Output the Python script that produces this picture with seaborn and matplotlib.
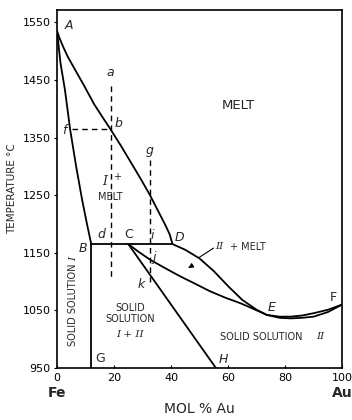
import matplotlib
matplotlib.use('Agg')
import pandas as pd
import matplotlib.pyplot as plt
import seaborn as sns

# Fe-Au phase diagram (x = mol % Au, y = temperature C)

liquidus_x = [0, 1, 2.2, 3.8, 6.3, 9.5, 13, 16, 18.8, 22.5, 26, 29.5, 32.6, 35.5, 38, 39.5, 40.5]
liquidus_t = [1535, 1521, 1507, 1490, 1468, 1440, 1408, 1385, 1364, 1335, 1306, 1277, 1250, 1222, 1198, 1182, 1165]

solidus1_x = [0, 1.2, 2.8, 4.6, 6.7, 8.8, 10.5, 12]
solidus1_t = [1535, 1480, 1432, 1364, 1300, 1242, 1200, 1165]

liquidus2_x = [40.5, 45, 50, 55, 60, 65, 70, 73.6, 78, 82, 86, 90, 95, 100]
liquidus2_t = [1165, 1155, 1140, 1118, 1092, 1068, 1051, 1042, 1039, 1039, 1041, 1045, 1051, 1060]

solidus2_x = [25, 28.5, 32.6, 38, 43.2, 48.5, 53.7, 59, 64.5, 70, 73.6, 78, 82, 86, 90, 95, 100]
solidus2_t = [1165, 1152, 1138, 1123, 1109, 1096, 1083, 1072, 1062, 1050, 1042, 1037, 1036, 1037, 1039, 1047, 1060]

solvus_x = [25, 55.7]          # C -> H
solvus_t = [1165, 950]

peritectic_x = [12, 40.5]      # B -> D
peritectic_t = [1165, 1165]

boundary_x = [12, 12]          # B -> G
boundary_t = [1165, 950]

# dashed construction lines
dash_ad_x = [18.8, 18.8]
dash_ad_t = [1440, 1105]
dash_fb_x = [5.1, 18.8]
dash_fb_t = [1364, 1364]
dash_gk_x = [32.6, 32.6]
dash_gk_t = [1311, 1100]

# point letters: (text, x, t, italic)
letters = [('A', 4.0, 1545, True), ('a', 18.6, 1463, True), ('b', 21.6, 1375, True),
           ('f', 2.5, 1363, True), ('g', 32.6, 1328, True), ('d', 15.7, 1182, True),
           ('C', 25.2, 1182, False), ('i', 33.4, 1180, True), ('D', 43.0, 1176, True),
           ('B', 9.2, 1158, True), ('j', 34.0, 1141, True), ('k', 29.6, 1094, True),
           ('G', 15.2, 966, False), ('H', 58.3, 965, True), ('E', 75.3, 1055, True),
           ('F', 96.8, 1073, False)]

xticks = [0, 20, 40, 60, 80, 100]
yticks = [950, 1050, 1150, 1250, 1350, 1450, 1550]

sns.set_theme(style='ticks')
plt.rcParams['font.family'] = ['DejaVu Sans']

fig = plt.figure(figsize=(3.52, 4.2), dpi=100)
ax = fig.add_axes([0.162, 0.124, 0.81, 0.853])

lw = 1.3
for xs, ts in [(liquidus_x, liquidus_t), (solidus1_x, solidus1_t), (liquidus2_x, liquidus2_t),
               (solidus2_x, solidus2_t), (solvus_x, solvus_t), (peritectic_x, peritectic_t),
               (boundary_x, boundary_t)]:
    df = pd.DataFrame({'x': xs, 't': ts})
    sns.lineplot(data=df, x='x', y='t', sort=False, estimator=None, color='black', lw=lw, ax=ax)

for xs, ts in [(dash_ad_x, dash_ad_t), (dash_fb_x, dash_fb_t), (dash_gk_x, dash_gk_t)]:
    df = pd.DataFrame({'x': xs, 't': ts})
    sns.lineplot(data=df, x='x', y='t', sort=False, estimator=None, color='black', lw=1.0,
                 linestyle=(0, (4, 3)), ax=ax)

for txt, x, t, it in letters:
    ax.text(x, t, txt, fontsize=9, ha='center', va='center',
            style='italic' if it else 'normal')

# region labels
ax.text(63.5, 1406, 'MELT', fontsize=9.5, ha='center', va='center')
ax.text(16.6, 1273, 'I', fontsize=9, ha='center', va='center', family='DejaVu Serif', style='italic')
ax.text(21.0, 1281, '+', fontsize=7, ha='center', va='center')
ax.text(18.6, 1247, 'MELT', fontsize=7, ha='center', va='center')
ax.text(55.3, 1160, 'II', fontsize=7.5, ha='left', va='center', family='DejaVu Serif', style='italic')
ax.text(60.5, 1160, '+ MELT', fontsize=7, ha='left', va='center')
ax.plot([54.9, 49.9], [1158, 1142], color='black', lw=0.8)
ax.annotate('', xy=(45.2, 1121), xytext=(47.2, 1127),
            arrowprops=dict(arrowstyle='-|>', color='black', lw=0.8, mutation_scale=7))
ax.text(25.6, 1045, 'SOLID\nSOLUTION', fontsize=7, ha='center', va='center', linespacing=1.1)
ax.text(25.6, 1008, 'I + II', fontsize=7.5, ha='center', va='center', family='DejaVu Serif', style='italic')
ax.text(71.5, 1004, 'SOLID SOLUTION', fontsize=7, ha='center', va='center')
ax.text(92.5, 1004, 'II', fontsize=7.5, ha='center', va='center', family='DejaVu Serif', style='italic')
ax.text(5.6, 1060, 'SOLID SOLUTION', fontsize=7, ha='center', va='center', rotation=90)
ax.text(5.8, 1140, 'I', fontsize=7.5, ha='center', va='center', rotation=90,
        family='DejaVu Serif', style='italic')

ax.set_xlim(0, 100)
ax.set_ylim(950, 1572)
ax.set_xticks(xticks)
ax.set_yticks(yticks)
ax.tick_params(axis='both', labelsize=8, colors='black', length=2.5, width=0.8)
ax.tick_params(axis='x', direction='in', pad=4)
ax.tick_params(axis='y', direction='out', pad=2)
for s in ax.spines.values():
    s.set_color('black')
    s.set_linewidth(1.2)

ax.set_xlabel('MOL % Au', fontsize=10, labelpad=13)
ax.set_ylabel('TEMPERATURE °C', fontsize=7.5, labelpad=4)
ax.text(0, -0.07, 'Fe', transform=ax.transAxes, fontsize=10, fontweight='bold', ha='center', va='center')
ax.text(1, -0.07, 'Au', transform=ax.transAxes, fontsize=10, fontweight='bold', ha='center', va='center')

fig.savefig('out.png', dpi=100)
